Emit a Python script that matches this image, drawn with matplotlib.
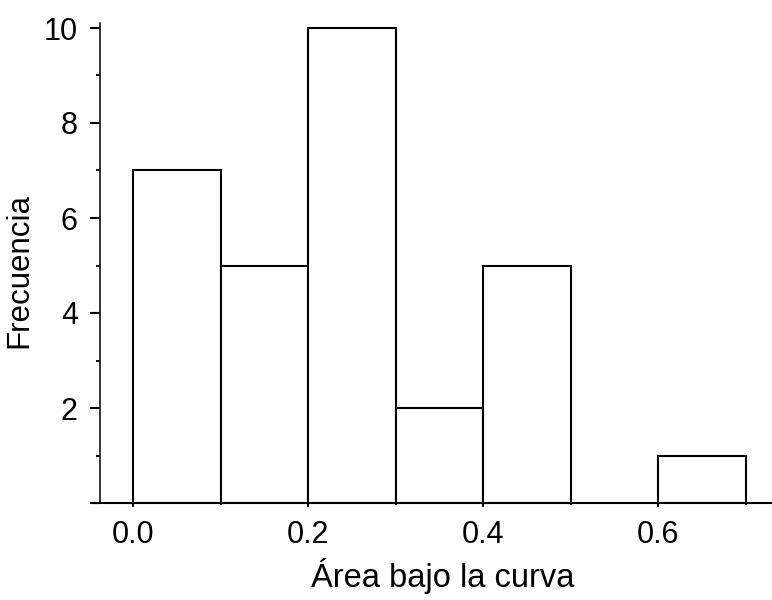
import matplotlib
matplotlib.use("Agg")
import matplotlib.pyplot as plt
from matplotlib.ticker import MultipleLocator

plt.rcParams['font.family'] = ['Liberation Sans', 'DejaVu Sans']

bin_edges = [0.0, 0.1, 0.2, 0.3, 0.4, 0.5, 0.6, 0.7]
counts = [7, 5, 10, 2, 5, 0, 1]
y_ticks = [0, 2, 4, 6, 8, 10]
y_tick_labels = ['', '2', '4', '6', '8', '10']
x_ticks = [0.0, 0.2, 0.4, 0.6]
x_tick_labels = ['0.0', '0.2', '0.4', '0.6']

fig = plt.figure(figsize=(7.72, 6.0), dpi=100)
W, H = 772, 600
left, right, top, bottom = 95, 772, 23, 503
ax = fig.add_axes([left / W, 1 - bottom / H, (right - left) / W, (bottom - top) / H])

for i, c in enumerate(counts):
    if c > 0:
        ax.bar(bin_edges[i], c, width=bin_edges[i + 1] - bin_edges[i], align='edge',
               facecolor='white', edgecolor='black', linewidth=1.5)

px_per_unit = 875.7
x0 = -(133 - left) / px_per_unit
ax.set_xlim(x0, x0 + (right - left) / px_per_unit)
ax.set_ylim(0, 10 * (bottom - top) / (bottom - 28))

ax.spines['top'].set_visible(False)
ax.spines['right'].set_visible(False)
ax.spines['left'].set_position(('axes', 5 / (right - left)))
ax.spines['left'].set_linewidth(1.1)
ax.spines['bottom'].set_linewidth(1.5)

ax.xaxis.set_minor_locator(MultipleLocator(0.1))
ax.yaxis.set_minor_locator(MultipleLocator(1))
ax.set_yticks(y_ticks)
ax.set_yticklabels(y_tick_labels)
ax.set_xticks(x_ticks)
ax.set_xticklabels(x_tick_labels)

ax.tick_params(axis='both', which='major', labelsize=22, width=1.5, direction='out')
ax.tick_params(axis='both', which='minor', width=1.4, direction='out')
ax.tick_params(axis='y', which='major', length=7, pad=9)
ax.tick_params(axis='y', which='minor', length=3)
ax.tick_params(axis='x', which='major', length=3, pad=9)
ax.tick_params(axis='x', which='minor', length=1.5)

ax.set_xlabel('Área bajo la curva', fontsize=23.5)
ax.set_ylabel('Frecuencia', fontsize=22.5)
ax.xaxis.set_label_coords((443 - left) / (right - left), (bottom - 558) / (bottom - top))
ax.yaxis.set_label_coords((34 - left) / (right - left), (bottom - 270) / (bottom - top))

fig.savefig('out.png', dpi=100)
